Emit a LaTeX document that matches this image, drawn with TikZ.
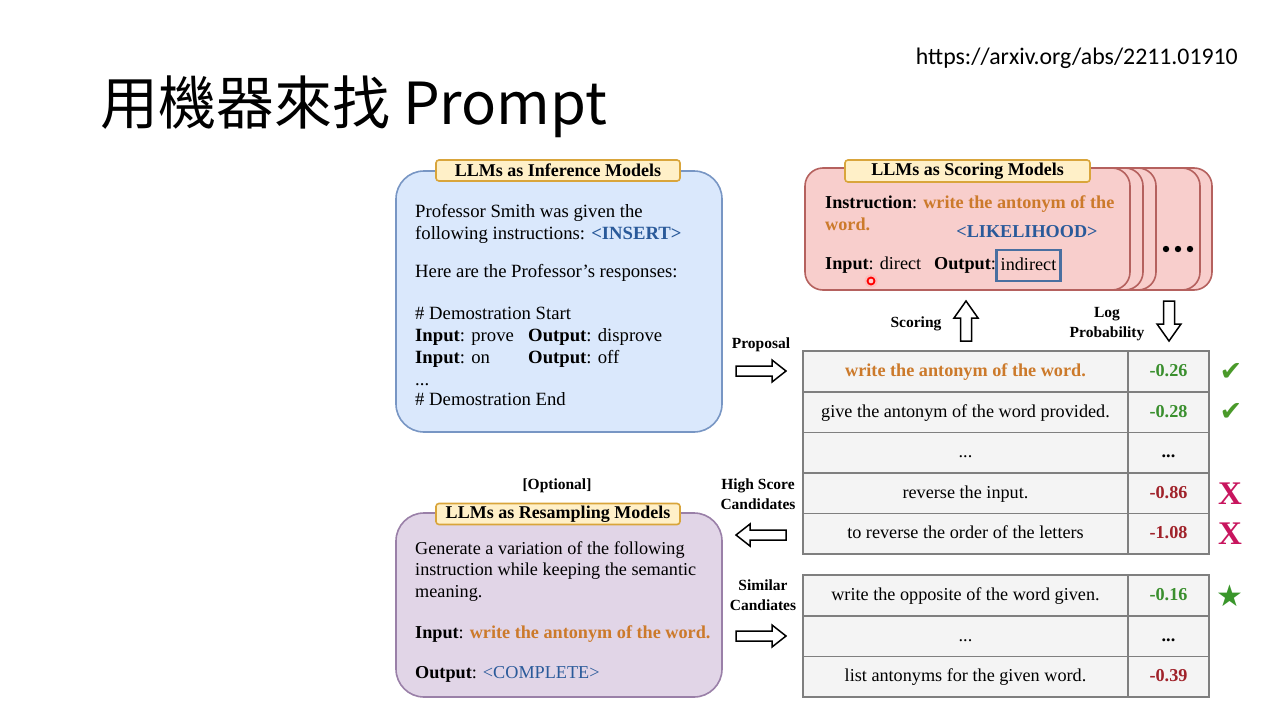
\documentclass[tikz,border=0pt]{standalone}
\usepackage{fontspec}
\setmainfont{Liberation Serif}
\newfontfamily\cjkfont{Noto Sans CJK TC}
\newfontfamily\symfont{DejaVu Sans}
\newfontfamily\urlfont{Carlito}
\definecolor{infill}{HTML}{DAE8FC}
\definecolor{inborder}{HTML}{7896C4}
\definecolor{cardfill}{HTML}{F8CECC}
\definecolor{cardborder}{HTML}{B5615E}
\definecolor{pufill}{HTML}{E1D5E7}
\definecolor{puborder}{HTML}{9A80A8}
\definecolor{tagfill}{HTML}{FFF0C8}
\definecolor{tagborder}{HTML}{D9A53B}
\definecolor{cellfill}{HTML}{F4F4F4}
\definecolor{cellborder}{HTML}{7F7F7F}
\definecolor{ordtxt}{HTML}{CC7A2B}
\definecolor{bluetxt}{HTML}{2A5A9A}
\definecolor{greentxt}{HTML}{3A8F2E}
\definecolor{redtxt}{HTML}{A0222A}
\definecolor{checkgreen}{HTML}{4A9A2A}
\definecolor{xred}{HTML}{C8155E}
\definecolor{stargreen}{HTML}{3A962B}
\definecolor{boxblue}{HTML}{4A6FA0}
\begin{document}
\begin{tikzpicture}[x=1pt,y=-1pt,
  body/.style={anchor=base west, inner sep=0, font=\fontsize{18.2}{21}\selectfont},
  bodyi/.style={body, font=\fontsize{18.7}{21}\selectfont},
  bodyc/.style={body, anchor=base},
  side/.style={anchor=base, inner sep=0, font=\bfseries\fontsize{15.5}{17}\selectfont},
  tag/.style={draw=tagborder, fill=tagfill, line width=1.6pt, rounded corners=3pt,
    minimum width=244pt, minimum height=21pt, inner sep=0,
    font=\bfseries\fontsize{18}{19}\selectfont},
  panel/.style={line width=1.6pt, rounded corners=28pt, inner sep=0},
  card/.style={draw=cardborder, fill=cardfill, line width=1.6pt, rounded corners=18pt,
    minimum width=325pt, minimum height=122pt, inner sep=0},
  cellA/.style={draw=cellborder, fill=cellfill, line width=1.5pt, minimum width=325pt,
    minimum height=40.6pt, inner sep=0, text height=13.5pt, text depth=3.5pt,
    font=\fontsize{18.2}{21}\selectfont},
  cellB/.style={cellA, minimum width=81pt},
  marksym/.style={inner sep=0, anchor=center},
  arrowline/.style={draw=black, fill=white, line width=1.5pt, line join=miter},
  harrow/.pic={\draw[arrowline] (-25,-5) -- (11,-5) -- (11,-11) -- (25,0) -- (11,11) -- (11,5) -- (-25,5) -- cycle;},
  varrow/.pic={\draw[arrowline] (-20,-5.5) -- (3,-5.5) -- (3,-12) -- (20,0) -- (3,12) -- (3,5.5) -- (-20,5.5) -- cycle;}
]
\useasboundingbox[fill=white] (0,0) rectangle (1280,720);

% title and url
\node[anchor=base west, inner sep=0, font=\cjkfont\fontsize{58}{58}\selectfont] (title) at (100,124) {用機器來找 Prompt};
\node[anchor=base east, inner sep=0, font=\urlfont\fontsize{23.8}{24}\selectfont] (url) at (1238,64) {https://arxiv.org/abs/2211.01910};

% ---------- inference panel ----------
\node[panel, draw=inborder, fill=infill, minimum width=326pt, minimum height=261pt] (infer) at (559,301.5) {};
\node[tag] (intag) at (558,170.5) {LLMs as Inference Models};
\node[bodyi] (i1) at (415,217) {Professor Smith was given the};
\node[bodyi] (i2) at (415,239) {following instructions: \textbf{\color{bluetxt}<INSERT>}};
\node[bodyi] (i3) at (415,277) {Here are the Professor’s responses:};
\node[bodyi] (i4) at (415,319) {\# Demostration Start};
\node[bodyi] (i5) at (415,341) {\textbf{Input}: prove};
\node[bodyi] (i6) at (528,341) {\textbf{Output}: disprove};
\node[bodyi] (i7) at (415,363) {\textbf{Input}: on};
\node[bodyi] (i8) at (528,363) {\textbf{Output}: off};
\node[bodyi] (i9) at (415,385) {...};
\node[bodyi] (i10) at (415,405) {\# Demostration End};

% ---------- scoring cards ----------
\node[card] (c5) at (1049.5,229) {};
\node[card] (c4) at (1037.5,229) {};
\node[card] (c3) at (993.5,229) {};
\node[card] (c2) at (980.5,229) {};
\node[card] (c1) at (967.5,229) {};
\fill (1166,249) circle (3.2) (1178,249) circle (3.2) (1190,249) circle (3.2);
\node[tag, minimum width=245pt, minimum height=22pt] (sctag) at (967.5,171) {LLMs as Scoring Models};
\node[body] (s1) at (825,208) {\textbf{Instruction}: \textbf{\color{ordtxt}write the antonym of the}};
\node[body] (s2) at (825,230) {\textbf{\color{ordtxt}word.}};
\node[bodyc] (s3) at (1027,237) {\textbf{\color{bluetxt}<LIKELIHOOD>}};
\node[body] (s4) at (825,269) {\textbf{Input}: direct};
\node[body] (s5) at (934,269) {\textbf{Output}:};
\node[draw=boxblue, line width=2.6pt, minimum width=64pt, minimum height=31pt, inner sep=0,
  text height=13.5pt, text depth=3.5pt, font=\fontsize{18.2}{21}\selectfont] (ind) at (1028.5,265.5) {indirect};
% pointer dot
\node[circle, fill=red!30, opacity=0.6, minimum size=13pt, inner sep=0] (glow) at (871,281) {};
\node[circle, draw=red, fill=red!20, line width=1.8pt, minimum size=7pt, inner sep=0] (ptr) at (871,281) {};

% scoring arrows
\node[side] (scoring) at (916,327) {Scoring};
\pic[rotate=90] at (966,321) {varrow};
\node[side] (log) at (1107,317) {Log};
\node[side] (prob) at (1107,337) {Probability};
\pic[rotate=-90] at (1169,321) {varrow};

% ---------- table 1 ----------
\node[cellA] (a1) at (965.5,371.5) {\textbf{\color{ordtxt}write the antonym of the word.}};
\node[cellB] (b1) at (1168.5,371.5) {\textbf{\color{greentxt}-0.26}};
\node[cellA] (a2) at (965.5,412.1) {give the antonym of the word provided.};
\node[cellB] (b2) at (1168.5,412.1) {\textbf{\color{greentxt}-0.28}};
\node[cellA] (a3) at (965.5,452.7) {...};
\node[cellB] (b3) at (1168.5,452.7) {\textbf{...}};
\node[cellA] (a4) at (965.5,493.3) {reverse the input.};
\node[cellB] (b4) at (1168.5,493.3) {\textbf{\color{redtxt}-0.86}};
\node[cellA] (a5) at (965.5,533.9) {to reverse the order of the letters};
\node[cellB] (b5) at (1168.5,533.9) {\textbf{\color{redtxt}-1.08}};

\node[marksym, text=checkgreen, font=\symfont\fontsize{27}{27}\selectfont] (k1) at (1231,372) {✔};
\node[marksym, text=checkgreen, font=\symfont\fontsize{27}{27}\selectfont] (k2) at (1231,412) {✔};
\node[marksym, text=xred, font=\bfseries\fontsize{33}{33}\selectfont] (x1) at (1230,494) {X};
\node[marksym, text=xred, font=\bfseries\fontsize{33}{33}\selectfont] (x2) at (1230,534) {X};

% ---------- table 2 ----------
\node[cellA] (d1) at (965.5,595.5) {write the opposite of the word given.};
\node[cellB] (e1) at (1168.5,595.5) {\textbf{\color{greentxt}-0.16}};
\node[cellA] (d2) at (965.5,636.1) {...};
\node[cellB] (e2) at (1168.5,636.1) {\textbf{...}};
\node[cellA] (d3) at (965.5,676.7) {list antonyms for the given word.};
\node[cellB] (e3) at (1168.5,676.7) {\textbf{\color{redtxt}-0.39}};
\node[marksym, text=stargreen, font=\symfont\fontsize{30}{30}\selectfont] (st) at (1230,596) {★};

% ---------- side labels and arrows ----------
\node[side] (prop) at (761,348) {Proposal};
\pic at (761,371) {harrow};
\node[side] (hs1) at (758,489) {High Score};
\node[side] (hs2) at (758,509) {Candidates};
\pic[rotate=180] at (761,535) {harrow};
\node[side] (sim1) at (763,590) {Similar};
\node[side] (sim2) at (763,610) {Candiates};
\pic at (761,636) {harrow};
\node[side] (opt) at (557,489) {[Optional]};

% ---------- resampling panel ----------
\node[panel, draw=puborder, fill=pufill, minimum width=326pt, minimum height=184pt] (resamp) at (559,605) {};
\node[tag] (retag) at (558,514) {LLMs as Resampling Models};
\node[body] (r1) at (415,554) {Generate a variation of the following};
\node[body] (r2) at (415,575) {instruction while keeping the semantic};
\node[body] (r3) at (415,597) {meaning.};
\node[body] (r4) at (415,638) {\textbf{Input}: \textbf{\color{ordtxt}write the antonym of the word.}};
\node[body] (r5) at (415,678) {\textbf{Output}: {\color{bluetxt}<COMPLETE>}};
\end{tikzpicture}
\end{document}
